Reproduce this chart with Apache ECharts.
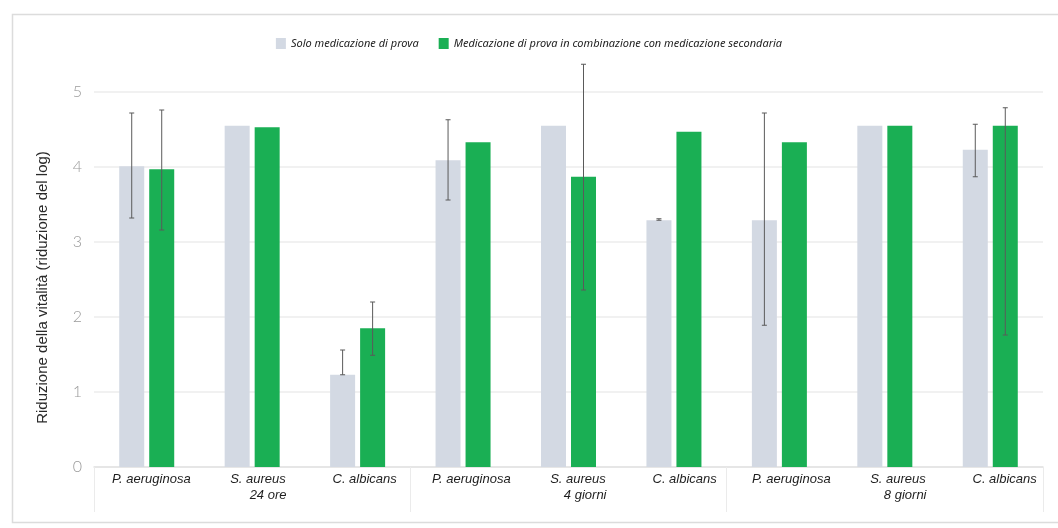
<!DOCTYPE html>
<html>
<head>
<meta charset="utf-8">
<script src="https://cdn.jsdelivr.net/npm/echarts@6/dist/echarts.min.js"></script>
<style>
  html, body { margin: 0; padding: 0; background: #ffffff; }
  #chart { width: 1058px; height: 528px; }
</style>
</head>
<body>
<div id="chart"></div>
<script>
// Organisms tested at each time point
const categories = [
  'P. aeruginosa', 'S. aureus', 'C. albicans',
  'P. aeruginosa', 'S. aureus', 'C. albicans',
  'P. aeruginosa', 'S. aureus', 'C. albicans'
];
// Time points, one per group of three organisms
const timepoints = ['24 ore', '4 giorni', '8 giorni'];

const seriesNames = [
  'Solo medicazione di prova',
  'Medicazione di prova in combinazione con medicazione secondaria'
];

// Mean log reduction
const soloValues = [4.01, 4.55, 1.23, 4.09, 4.55, 3.29, 3.29, 4.55, 4.23];
const comboValues = [3.97, 4.53, 1.85, 4.33, 3.87, 4.47, 4.33, 4.55, 4.55];

// Error bar limits (null = no error bar)
const soloLow  = [3.32, null, 1.23, 3.56, null, 3.29, 1.89, null, 3.87];
const soloHigh = [4.72, null, 1.56, 4.63, null, 3.31, 4.72, null, 4.57];
const comboLow  = [3.16, null, 1.49, null, 2.36, null, null, null, 1.76];
const comboHigh = [4.76, null, 2.20, null, 5.37, null, null, null, 4.79];

const yTicks = [0, 1, 2, 3, 4, 5];

const GRAY = '#d3d9e3';
const GREEN = '#1aaf54';
const BAR_W = 25;
const BAR_GAP = 5;

function errorData(low, high) {
  const out = [];
  low.forEach((l, i) => {
    if (l !== null && high[i] !== null) out.push([i, l, high[i]]);
  });
  return out;
}

function errorSeries(low, high, side) {
  return {
    type: 'custom',
    xAxisIndex: 0,
    yAxisIndex: 0,
    z: 5,
    silent: true,
    clip: false,
    data: errorData(low, high),
    encode: { x: 0, y: [1, 2] },
    renderItem: function (params, api) {
      const idx = api.value(0);
      const lo = api.coord([idx, api.value(1)]);
      const hi = api.coord([idx, api.value(2)]);
      const x = lo[0] + side * (BAR_W + BAR_GAP) / 2;
      const cap = 2.5;
      const style = { stroke: '#5a5a5a', lineWidth: 1 };
      return {
        type: 'group',
        children: [
          { type: 'line', shape: { x1: x, y1: hi[1], x2: x, y2: lo[1] }, style: style },
          { type: 'line', shape: { x1: x - cap, y1: hi[1], x2: x + cap, y2: hi[1] }, style: style },
          { type: 'line', shape: { x1: x - cap, y1: lo[1], x2: x + cap, y2: lo[1] }, style: style }
        ]
      };
    }
  };
}

const chart = echarts.init(document.getElementById('chart'));

chart.setOption({
  backgroundColor: '#ffffff',
  animation: false,
  graphic: [{
    type: 'rect',
    left: 10, top: 12,
    shape: { width: 1060, height: 508 },
    style: { fill: 'none', stroke: '#dcdcdc', lineWidth: 1.5 },
    silent: true,
    z: -10
  }],
  legend: {
    top: 33,
    left: 'center',
    itemWidth: 10,
    itemHeight: 11,
    itemGap: 20,
    icon: 'rect',
    data: seriesNames,
    textStyle: {
      fontFamily: 'Noto Sans',
      fontStyle: 'italic',
      fontSize: 11,
      color: '#222'
    }
  },
  grid: [
    { left: 94, right: 15, top: 92, bottom: 61 },
    { left: 98, width: 964, top: 92, bottom: 61 }
  ],
  xAxis: [
    {
      type: 'category',
      gridIndex: 0,
      data: categories,
      axisLine: { lineStyle: { color: '#e2e2e2', width: 1.5 } },
      axisTick: { show: false },
      axisLabel: { show: false }
    },
    {
      // group separators under the organism labels
      type: 'category',
      gridIndex: 0,
      position: 'bottom',
      data: timepoints,
      axisLine: { show: false },
      axisTick: { show: true, length: 45, lineStyle: { color: '#ebebeb', width: 1 } },
      axisLabel: { show: false }
    },
    {
      // organism and time point labels
      type: 'category',
      gridIndex: 1,
      data: categories,
      axisLine: { show: false },
      axisTick: { show: false },
      axisLabel: {
        interval: 0,
        margin: 4,
        fontFamily: 'Liberation Sans',
        fontStyle: 'italic',
        fontSize: 13,
        color: '#1e1e1e',
        lineHeight: 16,
        formatter: function (value, index) {
          if (index % 3 === 1) {
            return value + '\n{t|' + timepoints[Math.floor(index / 3)] + '}';
          }
          return value;
        },
        rich: {
          t: {
            width: 57,
            align: 'right',
            fontFamily: 'Liberation Sans',
            fontStyle: 'italic',
            fontSize: 13,
            color: '#1e1e1e',
            lineHeight: 16
          }
        }
      }
    }
  ],
  yAxis: [
    {
      type: 'value',
      gridIndex: 0,
      min: yTicks[0],
      max: yTicks[yTicks.length - 1],
      interval: 1,
      name: 'Riduzione della vitalità (riduzione del log)',
      nameLocation: 'middle',
      nameGap: 44,
      nameRotate: 90,
      nameTextStyle: {
        fontFamily: 'Liberation Sans',
        fontSize: 15,
        color: '#2a2a2a',
        padding: [0, 16, 0, 0]
      },
      axisLine: { show: false },
      axisTick: { show: false },
      axisLabel: {
        margin: 12,
        fontFamily: 'Lato',
        fontWeight: 300,
        fontSize: 16,
        color: '#9a9a9a'
      },
      splitLine: { lineStyle: { color: '#ececec', width: 1.5 } }
    },
    {
      type: 'value',
      gridIndex: 1,
      show: false,
      min: 0,
      max: 5
    }
  ],
  series: [
    {
      name: seriesNames[0],
      type: 'bar',
      xAxisIndex: 0,
      yAxisIndex: 0,
      barWidth: BAR_W,
      barGap: (BAR_GAP / BAR_W * 100) + '%',
      itemStyle: { color: GRAY },
      data: soloValues
    },
    {
      name: seriesNames[1],
      type: 'bar',
      xAxisIndex: 0,
      yAxisIndex: 0,
      barWidth: BAR_W,
      itemStyle: { color: GREEN },
      data: comboValues
    },
    errorSeries(soloLow, soloHigh, -1),
    errorSeries(comboLow, comboHigh, 1)
  ]
});
</script>
</body>
</html>
